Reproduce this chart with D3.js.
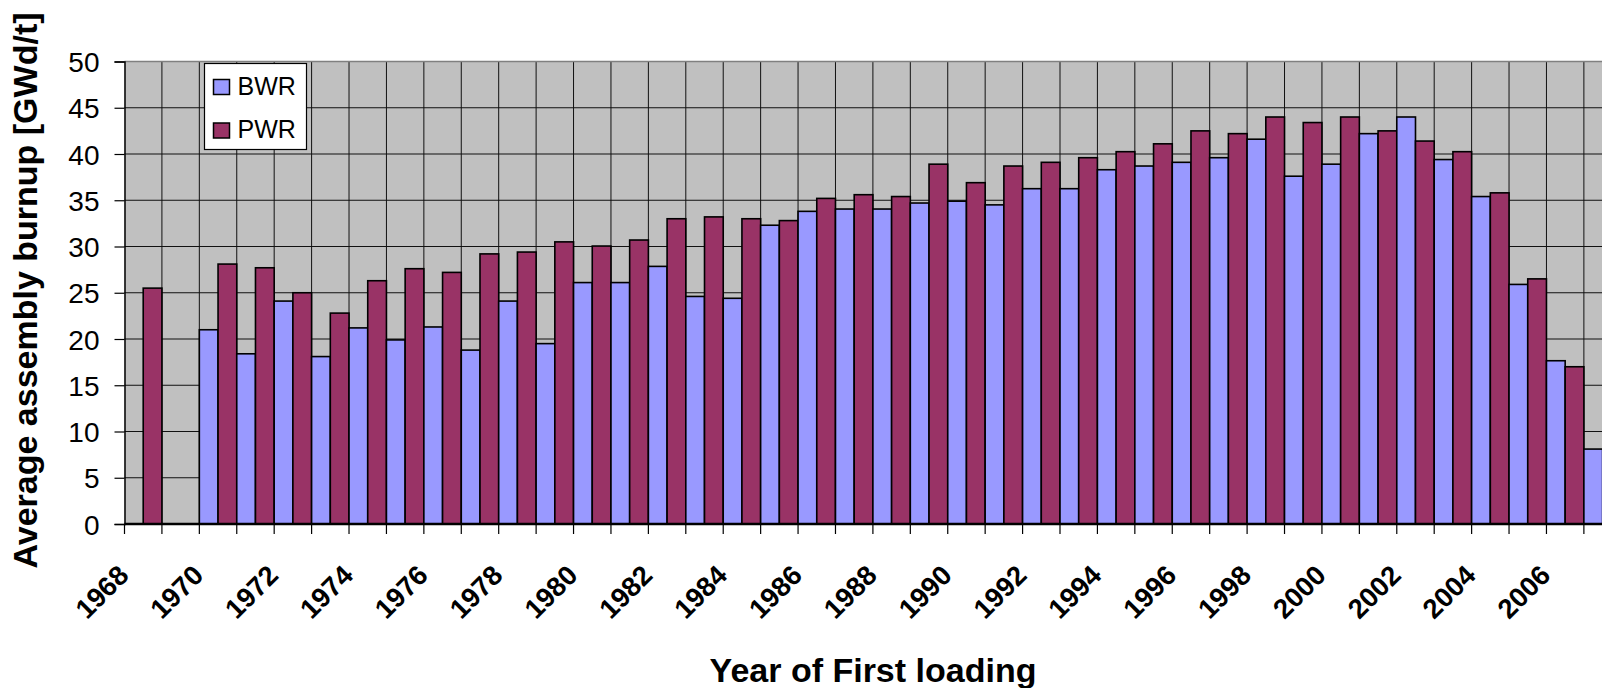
<!DOCTYPE html>
<html lang="en">
  <head>
    <meta charset="UTF-8" />
    <title>Average assembly burnup</title>
    <script src="https://d3js.org/d3.v7.min.js"></script>
    <style>
      body {
        margin: 0;
        background-color: white;
      }
      svg {
        display: block;
        font-family: Arial, "Liberation Sans", sans-serif;
      }
      .bar {
        stroke: #000;
        stroke-width: 1.6px;
      }
      .grid line {
        stroke: #111;
        stroke-width: 1px;
      }
    </style>
  </head>
  <body>
    <svg id="chart"></svg>
    <script>
      const years = [
        1968, 1969, 1970, 1971, 1972, 1973, 1974, 1975, 1976, 1977,
        1978, 1979, 1980, 1981, 1982, 1983, 1984, 1985, 1986, 1987,
        1988, 1989, 1990, 1991, 1992, 1993, 1994, 1995, 1996, 1997,
        1998, 1999, 2000, 2001, 2002, 2003, 2004, 2005, 2006, 2007,
      ];
      const bwr = [
        null, null, 21.0, 18.4, 24.1, 18.1, 21.2, 19.9, 21.3, 18.8,
        24.1, 19.5, 26.1, 26.1, 27.85, 24.6, 24.4, 32.3, 33.8, 34.05,
        34.05, 34.7, 34.9, 34.5, 36.25, 36.25, 38.3, 38.7, 39.1, 39.6,
        41.6, 37.6, 38.9, 42.2, 44.0, 39.4, 35.4, 25.9, 17.65, 8.1,
      ];
      const pwr = [
        25.5, null, 28.1, 27.7, 25.0, 22.8, 26.3, 27.6, 27.2, 29.2,
        29.4, 30.5, 30.05, 30.7, 33.0, 33.2, 33.0, 32.8, 35.2, 35.6,
        35.4, 38.9, 36.9, 38.7, 39.1, 39.6, 40.25, 41.1, 42.5, 42.2,
        44.0, 43.4, 44.0, 42.5, 41.4, 40.25, 35.8, 26.5, 17.0, null,
      ];
      const seriesNames = ["BWR", "PWR"];
      const seriesColors = ["#9999ff", "#993366"];
      const yTicks = [0, 5, 10, 15, 20, 25, 30, 35, 40, 45, 50];
      const xLabelYears = [
        1968, 1970, 1972, 1974, 1976, 1978, 1980, 1982, 1984, 1986,
        1988, 1990, 1992, 1994, 1996, 1998, 2000, 2002, 2004, 2006,
      ];

      const width = 1602;
      const height = 688;
      const plotLeft = 124.5;
      const plotTop = 61.5;
      const plotBottom = 524;
      const step = 37.42;
      const plotRight = plotLeft + step * years.length; // runs past the window edge

      const svg = d3
        .select("#chart")
        .attr("width", width)
        .attr("height", height);

      const x = d3
        .scaleBand()
        .domain(years)
        .range([plotLeft, plotRight])
        .padding(0);
      const xs = d3
        .scaleBand()
        .domain(seriesNames)
        .range([0, x.bandwidth()])
        .padding(0);
      const y = d3.scaleLinear().domain([0, 50]).range([plotBottom, plotTop]);
      const color = d3.scaleOrdinal().domain(seriesNames).range(seriesColors);

      // plot area
      svg
        .append("rect")
        .attr("x", plotLeft)
        .attr("y", plotTop)
        .attr("width", plotRight - plotLeft)
        .attr("height", plotBottom - plotTop)
        .attr("fill", "#c0c0c0");

      // grid
      const grid = svg.append("g").attr("class", "grid");
      grid
        .selectAll("line.h")
        .data(yTicks.filter((d) => d > 0 && d < 50))
        .enter()
        .append("line")
        .attr("class", "h")
        .attr("x1", plotLeft)
        .attr("x2", plotRight)
        .attr("y1", (d) => y(d))
        .attr("y2", (d) => y(d));
      grid
        .selectAll("line.v")
        .data(years.slice(1))
        .enter()
        .append("line")
        .attr("class", "v")
        .attr("x1", (d) => x(d))
        .attr("x2", (d) => x(d))
        .attr("y1", plotTop)
        .attr("y2", plotBottom);

      svg
        .append("line")
        .attr("x1", plotLeft)
        .attr("x2", plotRight)
        .attr("y1", plotTop)
        .attr("y2", plotTop)
        .attr("stroke", "#808080")
        .attr("stroke-width", 1.5);

      // bars
      const rows = years.map((yr, i) => ({
        year: yr,
        values: [
          { key: "BWR", value: bwr[i] },
          { key: "PWR", value: pwr[i] },
        ],
      }));

      svg
        .append("g")
        .selectAll("g")
        .data(rows)
        .enter()
        .append("g")
        .attr("transform", (d) => `translate(${x(d.year)},0)`)
        .selectAll("rect")
        .data((d) => d.values.filter((v) => v.value != null))
        .enter()
        .append("rect")
        .attr("class", "bar")
        .attr("x", (d) => xs(d.key))
        .attr("width", xs.bandwidth())
        .attr("y", (d) => y(d.value))
        .attr("height", (d) => y(0) - y(d.value))
        .attr("fill", (d) => color(d.key));

      // y axis
      const yAxis = svg
        .append("g")
        .attr("transform", `translate(${plotLeft},0)`)
        .call(d3.axisLeft(y).tickValues(yTicks).tickSize(10).tickPadding(15));
      yAxis.select(".domain").attr("stroke", "#000").attr("stroke-width", 1.5);
      yAxis
        .selectAll(".tick line")
        .attr("stroke", "#000")
        .attr("stroke-width", 1.2);
      yAxis
        .selectAll(".tick text")
        .attr("font-family", "Arial, 'Liberation Sans', sans-serif")
        .attr("font-size", 28)
        .attr("fill", "#000")
        .attr("dy", "0.36em");

      // x axis (ticks between categories)
      svg
        .append("line")
        .attr("x1", plotLeft)
        .attr("x2", plotRight)
        .attr("y1", plotBottom)
        .attr("y2", plotBottom)
        .attr("stroke", "#000")
        .attr("stroke-width", 2.5);
      svg
        .append("g")
        .selectAll("line")
        .data(years.concat([null]))
        .enter()
        .append("line")
        .attr("x1", (d) => (d == null ? plotRight : x(d)))
        .attr("x2", (d) => (d == null ? plotRight : x(d)))
        .attr("y1", plotBottom)
        .attr("y2", plotBottom + 10)
        .attr("stroke", "#000")
        .attr("stroke-width", 1.2);

      svg
        .append("g")
        .selectAll("text")
        .data(xLabelYears)
        .enter()
        .append("text")
        .attr("transform", (d) => {
          const cx = x(d) + x.bandwidth() / 2 - 13;
          return `translate(${cx},${plotBottom + 53}) rotate(-45)`;
        })
        .attr("text-anchor", "end")
        .attr("font-size", 27.5)
        .attr("font-weight", "bold")
        .text((d) => d);

      // axis titles
      svg
        .append("text")
        .attr("transform", "translate(37,290.5) rotate(-90)")
        .attr("text-anchor", "middle")
        .attr("font-size", 34)
        .attr("font-weight", "bold")
        .text("Average assembly burnup [GWd/t]");

      svg
        .append("text")
        .attr("x", 873)
        .attr("y", 681.5)
        .attr("text-anchor", "middle")
        .attr("font-size", 34)
        .attr("font-weight", "bold")
        .text("Year of First loading");

      // legend
      const legend = svg
        .append("g")
        .attr("transform", "translate(204.5,63.5)");
      legend
        .append("rect")
        .attr("width", 102)
        .attr("height", 86)
        .attr("fill", "#fff")
        .attr("stroke", "#000")
        .attr("stroke-width", 1.2);
      const items = legend
        .selectAll("g")
        .data(seriesNames)
        .enter()
        .append("g")
        .attr("transform", (d, i) => `translate(9,${16 + i * 43.5})`);
      items
        .append("rect")
        .attr("width", 16)
        .attr("height", 15)
        .attr("fill", (d) => color(d))
        .attr("stroke", "#000")
        .attr("stroke-width", 1.5);
      items
        .append("text")
        .attr("x", 24)
        .attr("y", 15)
        .attr("font-size", 25)
        .text((d) => d);
    </script>
  </body>
</html>
